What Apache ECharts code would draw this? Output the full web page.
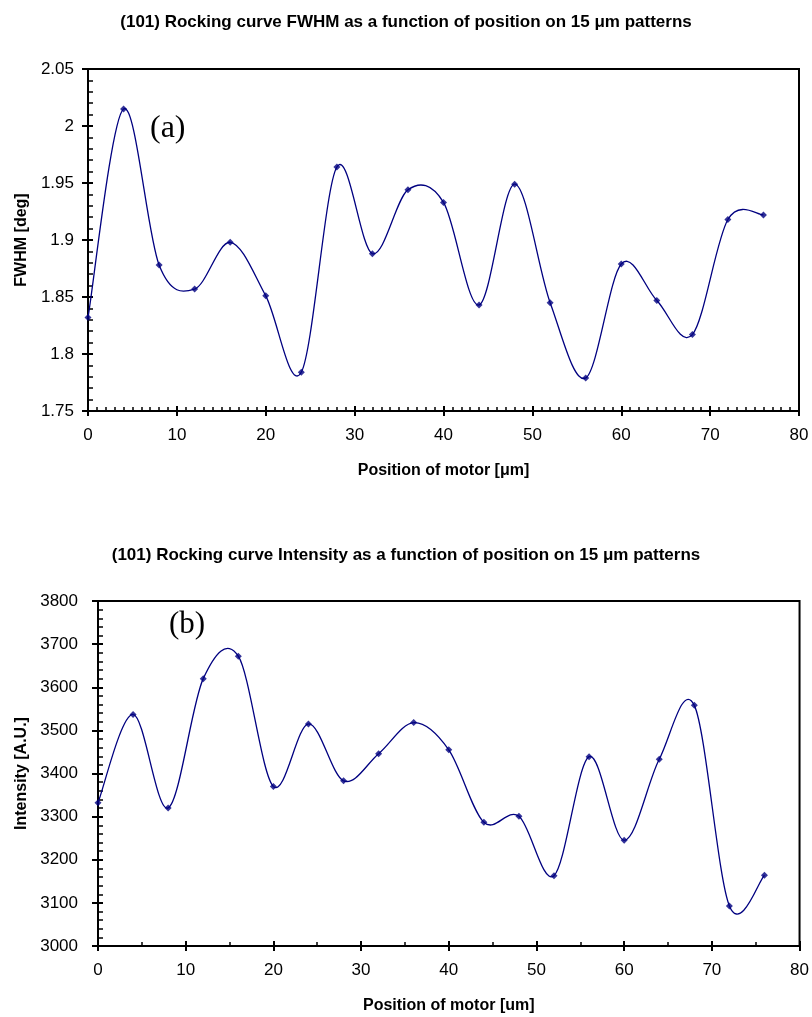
<!DOCTYPE html>
<html>
<head>
<meta charset="utf-8">
<script src="https://cdn.jsdelivr.net/npm/echarts@6/dist/echarts.min.js"></script>
<style>
  html, body { margin: 0; padding: 0; background: #fff; }
  #chart { width: 812px; height: 1017px; }
</style>
</head>
<body>
<div id="chart"></div>
<script>
// motor positions in um
const positions = [0, 4, 8, 12, 16, 20, 24, 28, 32, 36, 40, 44, 48, 52, 56, 60, 64, 68, 72, 76];
// (a) rocking curve FWHM [deg]
const fwhm = [1.832, 2.015, 1.878, 1.857, 1.898, 1.851, 1.784, 1.964, 1.888, 1.944,
	1.933, 1.843, 1.949, 1.845, 1.779, 1.879, 1.847, 1.817, 1.918, 1.922];
// (b) rocking curve intensity [A.U.]
const intensity = [3332, 3537, 3320, 3620, 3672, 3370, 3515, 3383, 3446, 3518,
	3455, 3287, 3301, 3163, 3439, 3245, 3433, 3558, 3093, 3164];

const titles = [
	"(101) Rocking curve FWHM as a function of position on 15 \u03bcm patterns",
	"(101) Rocking curve Intensity as a function of position on 15 \u03bcm patterns",
];
const xNames = ["Position of motor [\u03bcm]", "Position of motor [um]"];
const yNames = ["FWHM [deg]", "Intensity [A.U.]"];

const FONT = "Liberation Sans";
const lineColor = "#000080";

const axisLine = { show: true, lineStyle: { color: "#000", width: 2 } };
const labelStyle = { color: "#000", fontFamily: FONT, fontSize: 17 };
const nameStyle = { color: "#000", fontFamily: FONT, fontSize: 16, fontWeight: "bold" };

// main axis: labels, inner major + minor ticks
function mainX(grid, minorSplit, gap) {
	return {
		gridIndex: grid, type: "value", min: 0, max: 80, interval: 10,
		name: xNames[grid], nameLocation: "middle", nameGap: gap, nameTextStyle: nameStyle,
		axisLine: axisLine,
		axisTick: { show: true, inside: true, length: 5, lineStyle: { color: "#000", width: 2 } },
		minorTick: { show: true, splitNumber: minorSplit, length: 4, lineStyle: { color: "#000", width: 1.5 } },
		axisLabel: Object.assign({ margin: 16 }, labelStyle),
		splitLine: { show: false },
	};
}
// overlay axis: outer half of the crossing major ticks
function outerX(grid) {
	return {
		gridIndex: grid, type: "value", min: 0, max: 80, interval: 10, position: "bottom",
		axisLine: { show: false },
		axisTick: { show: true, inside: false, length: 5, lineStyle: { color: "#000", width: 2 } },
		axisLabel: { show: false }, splitLine: { show: false },
	};
}
function mainY(grid, min, max, interval, gap, margin) {
	return {
		gridIndex: grid, type: "value", min: min, max: max, interval: interval,
		name: yNames[grid], nameLocation: "middle", nameGap: gap, nameTextStyle: nameStyle,
		axisLine: axisLine,
		axisTick: { show: true, inside: true, length: 5, lineStyle: { color: "#000", width: 2 } },
		minorTick: { show: true, splitNumber: 5, length: 5, lineStyle: { color: "#000", width: 1.5 } },
		axisLabel: Object.assign({ margin: margin, formatter: (v) => String(v) }, labelStyle),
		splitLine: { show: false },
	};
}
function outerY(grid, min, max, interval) {
	return {
		gridIndex: grid, type: "value", min: min, max: max, interval: interval, position: "left",
		axisLine: { show: false },
		axisTick: { show: true, inside: false, length: 6, lineStyle: { color: "#000", width: 2 } },
		axisLabel: { show: false }, splitLine: { show: false },
	};
}

// Excel style smoothed line: one cubic bezier per segment, Catmull-Rom control points
function curveSeries(xi, yi, values) {
	const n = positions.length;
	const at = (k) => Math.min(n - 1, Math.max(0, k));
	return {
		type: "custom", xAxisIndex: xi, yAxisIndex: yi,
		data: positions.map((p, i) => [p, values[i]]),
		renderItem: function (params, api) {
			const i = params.dataIndex;
			if (i >= n - 1) return null;
			const pt = (k) => api.coord([positions[at(k)], values[at(k)]]);
			const p0 = pt(i - 1), p1 = pt(i), p2 = pt(i + 1), p3 = pt(i + 2);
			return {
				type: "bezierCurve",
				shape: {
					x1: p1[0], y1: p1[1], x2: p2[0], y2: p2[1],
					cpx1: p1[0] + (p2[0] - p0[0]) / 6, cpy1: p1[1] + (p2[1] - p0[1]) / 6,
					cpx2: p2[0] - (p3[0] - p1[0]) / 6, cpy2: p2[1] - (p3[1] - p1[1]) / 6,
				},
				style: { stroke: lineColor, fill: null, lineWidth: 1.3 },
			};
		},
	};
}
function markerSeries(xi, yi, values) {
	return {
		type: "scatter", xAxisIndex: xi, yAxisIndex: yi,
		data: positions.map((p, i) => [p, values[i]]),
		symbol: "diamond", symbolSize: 7,
		itemStyle: { color: lineColor },
		z: 3,
	};
}

const titleStyle = { fontFamily: FONT, fontSize: 17, fontWeight: "bold", color: "#000" };

const option = {
	animation: false,
	backgroundColor: "#fff",
	title: [
		{ text: titles[0], left: "center", top: 9, textStyle: titleStyle },
		{ text: titles[1], left: "center", top: 542, textStyle: titleStyle },
	],
	grid: [
		{ left: 88, top: 69, width: 711, height: 342, show: true, borderColor: "#000", borderWidth: 2 },
		{ left: 98, top: 601, width: 704, height: 345, show: true, borderColor: "#000", borderWidth: 2 },
	],
	xAxis: [mainX(0, 10, 52), outerX(0), mainX(1, 2, 52), outerX(1)],
	yAxis: [
		mainY(0, 1.75, 2.05, 0.05, 56, 14), outerY(0, 1.75, 2.05, 0.05),
		mainY(1, 3000, 3800, 100, 61, 20), outerY(1, 3000, 3800, 100),
	],
	graphic: [
		{ type: "text", left: 150, top: 113, style: { text: "(a)", font: "32px 'Liberation Serif'", fill: "#000" } },
		{ type: "text", left: 169, top: 609, style: { text: "(b)", font: "31px 'Liberation Serif'", fill: "#000" } },
	],
	series: [
		curveSeries(0, 0, fwhm), markerSeries(0, 0, fwhm),
		curveSeries(2, 2, intensity), markerSeries(2, 2, intensity),
	],
};

const chart = echarts.init(document.getElementById("chart"));
chart.setOption(option);
</script>
</body>
</html>
